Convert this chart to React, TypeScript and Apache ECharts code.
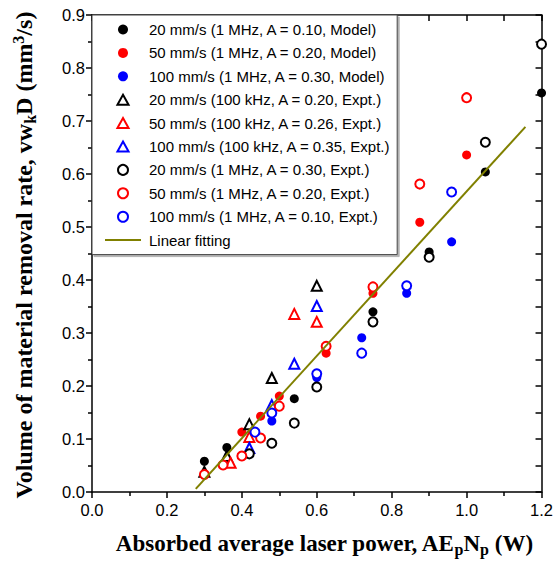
import React, { useEffect, useRef } from "react";
import * as echarts from "echarts";

const seriesNames = [
  "20 mm/s (1 MHz, A = 0.10, Model)",
  "50 mm/s (1 MHz, A = 0.20, Model)",
  "100 mm/s (1 MHz, A = 0.30, Model)",
  "20 mm/s (100 kHz, A = 0.20, Expt.)",
  "50 mm/s (100 kHz, A = 0.26, Expt.)",
  "100 mm/s (100 kHz, A = 0.35, Expt.)",
  "20 mm/s (1 MHz, A = 0.30, Expt.)",
  "50 mm/s (1 MHz, A = 0.20, Expt.)",
  "100 mm/s (1 MHz, A = 0.10, Expt.)",
  "Linear fitting",
];

const model20 = [[0.30, 0.058], [0.36, 0.084], [0.54, 0.176], [0.75, 0.340], [0.90, 0.453], [1.05, 0.604], [1.20, 0.753]];
const model50 = [[0.40, 0.113], [0.45, 0.143], [0.50, 0.181], [0.625, 0.262], [0.75, 0.375], [0.875, 0.509], [1.00, 0.636]];
const model100 = [[0.48, 0.134], [0.60, 0.216], [0.72, 0.291], [0.84, 0.375], [0.96, 0.472]];
const tri20 = [[0.30, 0.038], [0.36, 0.068], [0.42, 0.128], [0.48, 0.215], [0.60, 0.389]];
const tri50 = [[0.37, 0.055], [0.42, 0.104], [0.54, 0.336], [0.60, 0.321]];
const tri100 = [[0.42, 0.083], [0.48, 0.164], [0.54, 0.242], [0.60, 0.351]];
const open20 = [[0.42, 0.072], [0.48, 0.092], [0.54, 0.130], [0.60, 0.198], [0.75, 0.321], [0.90, 0.443], [1.05, 0.660], [1.20, 0.845]];
const open50 = [[0.30, 0.033], [0.35, 0.051], [0.40, 0.068], [0.45, 0.102], [0.50, 0.162], [0.625, 0.275], [0.75, 0.387], [0.875, 0.581], [1.00, 0.744]];
const open100 = [[0.435, 0.113], [0.48, 0.149], [0.60, 0.223], [0.72, 0.262], [0.84, 0.389], [0.96, 0.566]];
const fitLine = [[0.277, 0.006], [1.157, 0.689]];

const BLACK = "#000000";
const RED = "#ff0000";
const BLUE = "#0000ff";
const OLIVE = "#808000";

const TRI_ICON = "path://M5,0 L10,9 L0,9 Z";
const LINE_ICON = "path://M0,0 L36,0 L36,2 L0,2 Z";

const filled = (name: string, data: number[][], color: string) => ({
  name,
  type: "scatter",
  data,
  symbol: "circle",
  symbolSize: 9,
  itemStyle: { color, opacity: 1 },
});

const hollow = (name: string, data: number[][], color: string, symbol: string, size: number) => ({
  name,
  type: "scatter",
  data,
  symbol,
  symbolSize: size,
  itemStyle: { color: "#ffffff", borderColor: color, borderWidth: 2, opacity: 1 },
});

export default function App() {
  const ref = useRef<HTMLDivElement>(null);
  useEffect(() => {
    if (!ref.current) return;
    const chart = echarts.init(ref.current, undefined, { renderer: "svg" });
    const sans = "Liberation Sans, Arial, sans-serif";
    const serif = "Liberation Serif, Times New Roman, serif";
    const axisLine = { show: true, onZero: false, lineStyle: { color: "#000", width: 1.5 } };
    const legendData = seriesNames.map((n, i) => {
      if (i >= 3 && i <= 5) return { name: n, icon: TRI_ICON };
      if (i === 9) return { name: n, icon: LINE_ICON, itemStyle: { color: OLIVE, opacity: 1 } };
      return { name: n, icon: "circle" };
    });
    chart.setOption({
      animation: false,
      backgroundColor: "#ffffff",
      grid: { left: 92, right: 13, top: 15, bottom: 69, containLabel: false },
      xAxis: [
        {
          type: "value",
          position: "bottom",
          min: 0,
          max: 1.2,
          interval: 0.2,
          axisLine,
          axisTick: { show: true, inside: false, length: 6, lineStyle: { color: "#000", width: 1.5 } },
          minorTick: { show: true, splitNumber: 2, length: 4, lineStyle: { color: "#000", width: 1.5 } },
          splitLine: { show: false },
          axisLabel: {
            color: "#000",
            fontFamily: sans,
            fontSize: 16.5,
            margin: 9,
            formatter: (v: number) => v.toFixed(1),
          },
        },
        {
          type: "value",
          position: "top",
          min: 0,
          max: 1.2,
          interval: 0.1,
          axisLine,
          axisTick: { show: true, inside: true, length: 6, lineStyle: { color: "#000", width: 1.5 } },
          splitLine: { show: false },
          axisLabel: { show: false },
        },
      ],
      yAxis: [
        {
          type: "value",
          position: "left",
          min: 0,
          max: 0.9,
          interval: 0.1,
          axisLine,
          axisTick: { show: true, inside: false, length: 6, lineStyle: { color: "#000", width: 1.5 } },
          minorTick: { show: true, splitNumber: 2, length: 4, lineStyle: { color: "#000", width: 1.5 } },
          splitLine: { show: false },
          axisLabel: {
            color: "#000",
            fontFamily: sans,
            fontSize: 16.5,
            margin: 7,
            formatter: (v: number) => v.toFixed(1),
          },
        },
        {
          type: "value",
          position: "right",
          min: 0,
          max: 0.9,
          interval: 0.05,
          axisLine,
          axisTick: { show: true, inside: true, length: 6, lineStyle: { color: "#000", width: 1.5 } },
          splitLine: { show: false },
          axisLabel: { show: false },
        },
      ],
      legend: {
        left: 92,
        top: 15,
        orient: "vertical",
        data: legendData,
        itemWidth: 36,
        itemHeight: 10,
        itemGap: 6.4,
        padding: [6, 6, 6, 13],
        backgroundColor: "#ffffff",
        borderColor: "#444",
        borderWidth: 1,
        shadowColor: "rgba(0,0,0,0.3)",
        shadowOffsetX: 2,
        shadowOffsetY: 2,
        shadowBlur: 0,
        textStyle: { fontFamily: sans, fontSize: 15, lineHeight: 17, color: "#000", padding: [0, 0, 0, 3] },
        z: 10,
      },
      series: [
        filled(seriesNames[0], model20, BLACK),
        filled(seriesNames[1], model50, RED),
        filled(seriesNames[2], model100, BLUE),
        hollow(seriesNames[3], tri20, BLACK, "triangle", 10),
        hollow(seriesNames[4], tri50, RED, "triangle", 10),
        hollow(seriesNames[5], tri100, BLUE, "triangle", 10),
        hollow(seriesNames[6], open20, BLACK, "circle", 9),
        hollow(seriesNames[7], open50, RED, "circle", 9),
        hollow(seriesNames[8], open100, BLUE, "circle", 9),
        {
          name: seriesNames[9],
          type: "line",
          data: fitLine,
          symbol: "none",
          showSymbol: false,
          lineStyle: { color: OLIVE, width: 2 },
          itemStyle: { color: OLIVE },
          z: 3,
        },
      ],
      graphic: [
        {
          type: "text",
          x: 324,
          y: 543,
          style: {
            text: "{b|Absorbed average laser power, AE}{s|p}{b|N}{s|p}{b| (W)}",
            align: "center",
            verticalAlign: "middle",
            rich: {
              b: { fontFamily: serif, fontWeight: "bold", fontSize: 23, fill: "#000", lineHeight: 28, verticalAlign: "middle" },
              s: { fontFamily: serif, fontWeight: "bold", fontSize: 16, fill: "#000", lineHeight: 16, padding: [12, 0, 0, 0], verticalAlign: "middle" },
            },
          },
        },
        {
          type: "text",
          x: 24,
          y: 255,
          rotation: Math.PI / 2,
          style: {
            text: "{b|Volume of material removal rate, vw}{s|k}{b|D (mm}{p|3}{b|/s)}",
            align: "center",
            verticalAlign: "middle",
            rich: {
              b: { fontFamily: serif, fontWeight: "bold", fontSize: 24, fill: "#000", lineHeight: 28, verticalAlign: "middle" },
              s: { fontFamily: serif, fontWeight: "bold", fontSize: 16, fill: "#000", lineHeight: 16, padding: [12, 0, 0, 0], verticalAlign: "middle" },
              p: { fontFamily: serif, fontWeight: "bold", fontSize: 16, fill: "#000", lineHeight: 16, padding: [0, 0, 12, 0], verticalAlign: "middle" },
            },
          },
        },
      ],
    });
    return () => chart.dispose();
  }, []);
  return <div ref={ref} style={{ width: 556, height: 561, position: "absolute", left: 0, top: 0 }} />;
}
